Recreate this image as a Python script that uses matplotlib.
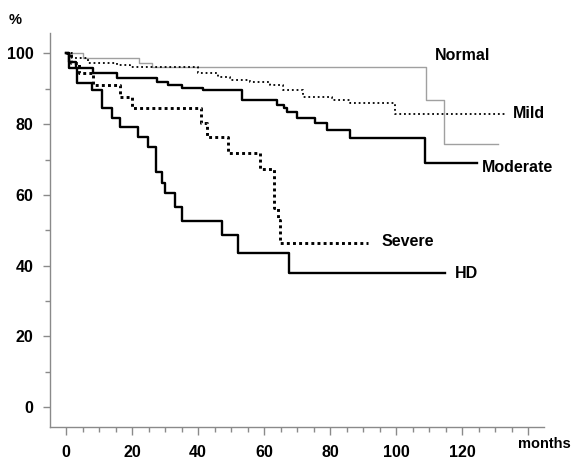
import matplotlib
matplotlib.use("Agg")
import matplotlib.pyplot as plt
from matplotlib.ticker import MultipleLocator, FixedLocator

plt.rcParams['font.family'] = ['Liberation Sans', 'DejaVu Sans']
plt.rcParams['font.weight'] = 'bold'

# ---- data (months, survival %) ----
normal_t = [0, 5, 22, 26, 109, 114.5, 131]
normal_s = [100, 98.6, 97.4, 96.3, 86.8, 74.4, 74.4]

mild_t = [0, 1.7, 6.7, 15.5, 19.4, 40, 46, 49.7, 55.8, 61.8, 65.8, 71.8, 80.6, 86, 99.7, 133.6]
mild_s = [100, 98.6, 97.4, 96.7, 96.3, 94.6, 93.4, 92.5, 92.0, 91.1, 89.7, 87.6, 86.8, 85.9, 82.8, 82.8]

moderate_t = [0, 1, 3, 8.3, 15.4, 27.5, 31, 35, 41.6, 53.2, 63.8, 65.9, 66.9, 69.9, 75.5, 79, 86, 108.8, 124.4]
moderate_s = [100, 97.5, 96.0, 94.6, 93.0, 92.0, 91.1, 90.2, 89.7, 86.8, 85.4, 84.5, 83.5, 81.8, 80.2, 78.4, 76.0, 68.9, 68.9]

severe_t = [0, 1.5, 4, 8.3, 16.4, 19.9, 41, 42.6, 49, 58.8, 63, 64.2, 64.8, 91.5]
severe_s = [100, 97.2, 94.4, 91.1, 87.8, 84.5, 80.2, 76.5, 71.8, 67.2, 56.2, 52.9, 46.5, 46.5]

hd_t = [0, 1, 3.2, 7.8, 10.8, 13.8, 16.4, 21.9, 24.9, 27.3, 29.2, 30, 33, 35, 47.2, 52.2, 67.7, 114.8]
hd_s = [100, 95.8, 91.7, 89.7, 84.5, 81.7, 79.3, 76.5, 73.6, 66.6, 63.3, 60.4, 56.7, 52.7, 48.7, 43.5, 37.8, 37.8]

labels = ["Normal", "Mild", "Moderate", "Severe", "HD"]
x_ticks = [0, 20, 40, 60, 80, 100, 120]
y_ticks = [0, 20, 40, 60, 80, 100]

# ---- figure ----
fig = plt.figure(figsize=(5.72, 4.62), dpi=100)
ax = fig.add_axes([50/572, 35/462, 494/572, 394/462])
ax.set_xlim(-4.85, 144.8)
ax.set_ylim(-5.7, 105.8)

gray = '#8a8a8a'
ax.step(normal_t, normal_s, where='post', color='#a0a0a0', lw=1.0)
ax.step(mild_t, mild_s, where='post', color='black', lw=1.3,
        linestyle=(0, (1, 1.6)), dash_capstyle='butt')
ax.step(moderate_t, moderate_s, where='post', color='black', lw=1.7)
ax.step(severe_t, severe_s, where='post', color='black', lw=2.1,
        linestyle=(0, (1, 1.1)), dash_capstyle='butt')
ax.step(hd_t, hd_s, where='post', color='black', lw=1.7)

# curve labels
fs = 11.5
ax.text(111.8, 99.3, labels[0], fontsize=fs, fontweight='bold', va='center', ha='left')
ax.text(135.5, 82.9, labels[1], fontsize=fs, fontweight='bold', va='center', ha='left', clip_on=False)
ax.text(126.0, 67.6, labels[2], fontsize=fs, fontweight='bold', va='center', ha='left', clip_on=False)
ax.text(95.5, 46.7, labels[3], fontsize=fs, fontweight='bold', va='center', ha='left')
ax.text(117.9, 37.6, labels[4], fontsize=fs, fontweight='bold', va='center', ha='left')

# spines
for s in ['top', 'right']:
    ax.spines[s].set_visible(False)
for s in ['left', 'bottom']:
    ax.spines[s].set_color(gray)
    ax.spines[s].set_linewidth(1.0)

ax.xaxis.set_major_locator(FixedLocator(x_ticks + [140]))
ax.set_xticklabels([str(v) for v in x_ticks] + [''])
ax.xaxis.set_minor_locator(MultipleLocator(5))
ax.yaxis.set_major_locator(FixedLocator(y_ticks))
ax.set_yticklabels([str(v) for v in y_ticks])
ax.yaxis.set_minor_locator(FixedLocator([10, 30, 50, 70, 90]))

ax.tick_params(axis='x', which='major', direction='out', length=6, width=1.0,
               color=gray, pad=7, labelsize=fs)
ax.tick_params(axis='x', which='minor', direction='out', length=3.5, width=1.0, color=gray)
ax.tick_params(axis='y', which='major', direction='out', length=5, width=1.0,
               color=gray, pad=7, labelsize=fs)
ax.tick_params(axis='y', which='minor', direction='out', length=3.5, width=1.0, color=gray)
for lab in ax.get_xticklabels() + ax.get_yticklabels():
    lab.set_fontweight('bold')

fig.text(15/572, 1 - 20/462, '%', fontsize=10.5, fontweight='bold', ha='center', va='center')
fig.text(518/572, 1 - 444/462, 'months', fontsize=10.5, fontweight='bold', ha='left', va='center')

fig.savefig('out.png', dpi=100, facecolor='white')
